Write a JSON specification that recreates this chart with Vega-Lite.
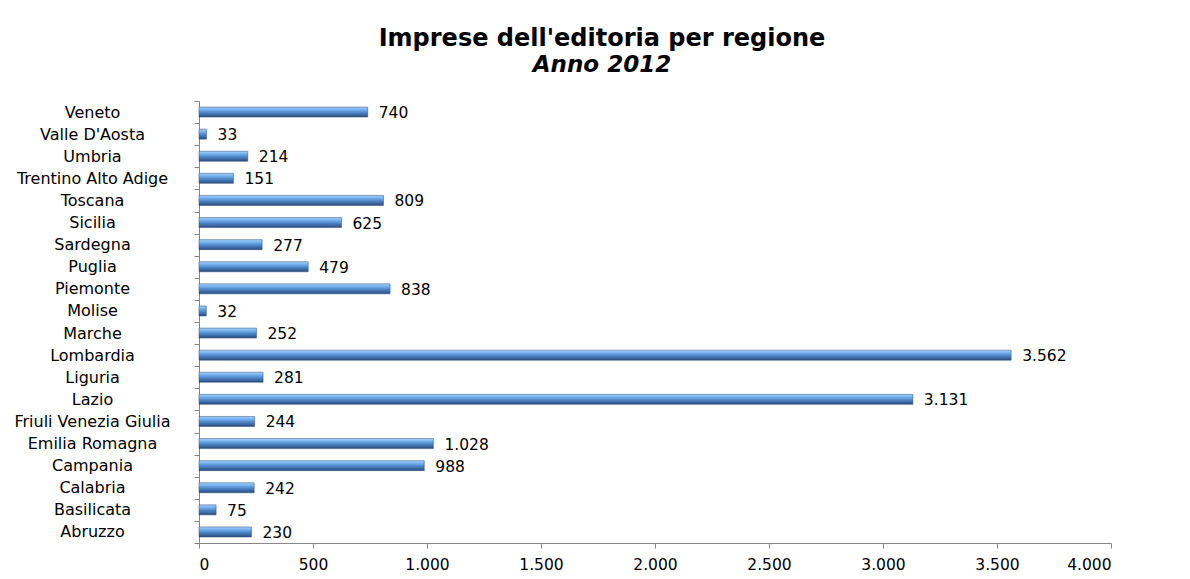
{
  "$schema": "https://vega.github.io/schema/vega-lite/v6.json",
  "autosize": {"type": "none"},
  "padding": {"left": 199, "top": 101, "right": 79, "bottom": 36},
  "width": 912,
  "height": 442,
  "background": "white",
  "title": {
    "text": "Imprese dell'editoria per regione",
    "subtitle": "Anno 2012",
    "anchor": "middle",
    "frame": "group",
    "dx": -53,
    "offset": 16,
    "font": "DejaVu Sans",
    "fontSize": 24,
    "fontWeight": "bold",
    "color": "black",
    "subtitleFont": "DejaVu Sans",
    "subtitleFontSize": 23,
    "subtitleFontWeight": "bold",
    "subtitleFontStyle": "italic",
    "subtitleColor": "black",
    "subtitlePadding": 3
  },
  "data": {
    "values": [
      {"regione": "Abruzzo", "imprese": 230},
      {"regione": "Basilicata", "imprese": 75},
      {"regione": "Calabria", "imprese": 242},
      {"regione": "Campania", "imprese": 988},
      {"regione": "Emilia Romagna", "imprese": 1028},
      {"regione": "Friuli Venezia Giulia", "imprese": 244},
      {"regione": "Lazio", "imprese": 3131},
      {"regione": "Liguria", "imprese": 281},
      {"regione": "Lombardia", "imprese": 3562},
      {"regione": "Marche", "imprese": 252},
      {"regione": "Molise", "imprese": 32},
      {"regione": "Piemonte", "imprese": 838},
      {"regione": "Puglia", "imprese": 479},
      {"regione": "Sardegna", "imprese": 277},
      {"regione": "Sicilia", "imprese": 625},
      {"regione": "Toscana", "imprese": 809},
      {"regione": "Trentino Alto Adige", "imprese": 151},
      {"regione": "Umbria", "imprese": 214},
      {"regione": "Valle D'Aosta", "imprese": 33},
      {"regione": "Veneto", "imprese": 740}
    ]
  },
  "encoding": {
    "y": {
      "field": "regione",
      "type": "nominal",
      "sort": "descending",
      "scale": {"paddingInner": 0, "paddingOuter": 0},
      "axis": {
        "title": null,
        "tickBand": "extent",
        "tickSize": 5,
        "tickColor": "#868686",
        "domainColor": "#868686",
        "labelAlign": "center",
        "labelPadding": 102,
        "labelFont": "DejaVu Sans",
        "labelFontSize": 16,
        "labelColor": "black",
        "labelLimit": 300
      }
    },
    "x": {
      "field": "imprese",
      "type": "quantitative",
      "scale": {"domain": [0, 4000], "nice": false},
      "axis": {
        "title": null,
        "values": [0, 500, 1000, 1500, 2000, 2500, 3000, 3500, 4000],
        "format": ",d",
        "grid": false,
        "tickSize": 5,
        "tickColor": "#868686",
        "domainColor": "#868686",
        "labelPadding": 9,
        "labelFont": "DejaVu Sans",
        "labelFontSize": 15.5,
        "labelColor": "black"
      }
    }
  },
  "layer": [
    {
      "mark": {
        "type": "bar",
        "size": 10,
        "color": {
          "gradient": "linear",
          "x1": 0, "y1": 0, "x2": 0, "y2": 1,
          "stops": [
            {"offset": 0, "color": "#a8d3f8"},
            {"offset": 0.3, "color": "#6eabec"},
            {"offset": 0.6, "color": "#4a80c2"},
            {"offset": 1, "color": "#2b4c7a"}
          ]
        },
        "stroke": "#2b4c7a",
        "strokeWidth": 0.5
      }
    },
    {
      "mark": {
        "type": "text",
        "align": "left",
        "baseline": "middle",
        "dx": 11,
        "dy": 1,
        "font": "DejaVu Sans",
        "fontSize": 15.5,
        "color": "black"
      },
      "encoding": {
        "text": {"field": "imprese", "type": "quantitative", "format": ",d"}
      }
    }
  ],
  "config": {
    "locale": {
      "number": {"decimal": ",", "thousands": ".", "grouping": [3], "currency": ["€", ""]}
    },
    "view": {"stroke": null}
  }
}
